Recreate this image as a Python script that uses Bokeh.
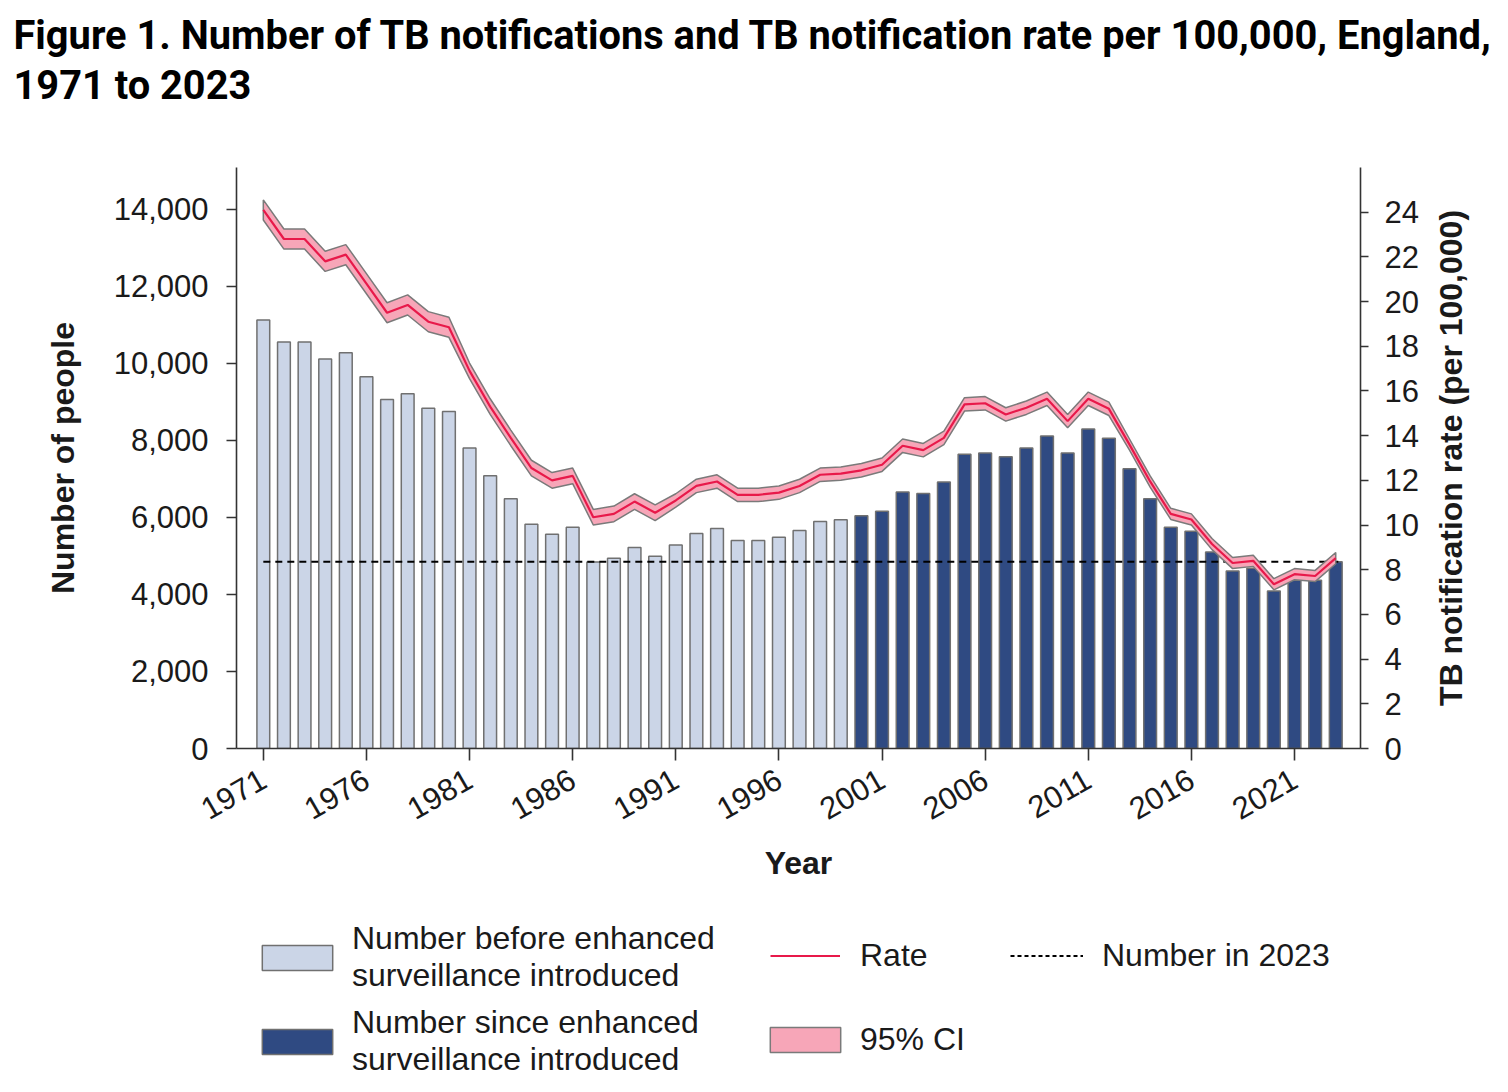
import math
from bokeh.plotting import figure
from bokeh.layouts import column, row
from bokeh.models import (Range1d, LinearAxis, FixedTicker, NumeralTickFormatter,
                          ColumnDataSource, Legend, LegendItem)
from bokeh.embed import file_html
from bokeh.resources import INLINE

# ---------------- data ----------------
years = list(range(1971, 2024))
counts = [11120, 10550, 10550, 10110, 10270, 9650, 9060, 9210, 8830, 8750,
          7800, 7080, 6480, 5820, 5560, 5740, 4840, 4940, 5220, 4990,
          5280, 5580, 5710, 5400, 5400, 5480, 5660, 5890, 5940, 6040,
          6160, 6660, 6620, 6920, 7640, 7670, 7570, 7800, 8110, 7670,
          8290, 8050, 7260, 6480, 5740, 5640, 5100, 4610, 4680, 4090,
          4370, 4370, 4850]
rate = [24.1, 22.8, 22.8, 21.8, 22.1, 20.8, 19.5, 19.85, 19.1, 18.85,
        16.9, 15.3, 13.9, 12.55, 12.0, 12.2, 10.35, 10.5, 11.05, 10.55,
        11.1, 11.75, 11.95, 11.35, 11.35, 11.45, 11.75, 12.25, 12.3, 12.45,
        12.7, 13.55, 13.35, 13.9, 15.4, 15.45, 14.95, 15.25, 15.65, 14.65,
        15.65, 15.2, 13.6, 11.95, 10.5, 10.25, 9.15, 8.3, 8.4, 7.35,
        7.8, 7.72, 8.52]
rate_lo = [23.65, 22.35, 22.35, 21.35, 21.65, 20.35, 19.05, 19.4, 18.65, 18.4,
           16.55, 14.95, 13.55, 12.2, 11.65, 11.85, 10.0, 10.15, 10.7, 10.2,
           10.8, 11.45, 11.65, 11.05, 11.05, 11.15, 11.45, 11.95, 12.0, 12.15,
           12.4, 13.25, 13.05, 13.6, 15.1, 15.15, 14.65, 14.95, 15.35, 14.35,
           15.35, 14.9, 13.35, 11.7, 10.25, 10.0, 8.9, 8.05, 8.15, 7.1,
           7.55, 7.47, 8.27]
rate_hi = [24.55, 23.25, 23.25, 22.25, 22.55, 21.25, 19.95, 20.3, 19.55, 19.3,
           17.25, 15.65, 14.25, 12.9, 12.35, 12.55, 10.7, 10.85, 11.4, 10.9,
           11.4, 12.05, 12.25, 11.65, 11.65, 11.75, 12.05, 12.55, 12.6, 12.75,
           13.0, 13.85, 13.65, 14.2, 15.7, 15.75, 15.25, 15.55, 15.95, 14.95,
           15.95, 15.5, 13.85, 12.2, 10.75, 10.5, 9.4, 8.55, 8.65, 7.6,
           8.05, 7.97, 8.77]
enhanced_start = 2000
year_ticks = years[::5]
count_ticks = list(range(0, 14001, 2000))
rate_ticks = list(range(0, 25, 2))

title_text = ("Figure 1. Number of TB notifications and TB notification rate per 100,000, England,\n"
              "1971 to 2023")
right_label = "TB notification rate (per 100,000)"
label_before = "Number before enhanced\nsurveillance introduced"
label_after = "Number since enhanced\nsurveillance introduced"

# ---------------- styles ----------------
AX_FONT = "Liberation Sans"
TXT = "#1a1a1a"
BEFORE_FILL = "#cbd5e7"
AFTER_FILL = "#2f4a82"
BAR_LINE = "#707070"
CI_FILL = "#f7a6b8"
CI_LINE = "#7a7a7a"
RATE_COLOR = "#e8194a"

# ---------------- sources ----------------
before = ColumnDataSource(dict(x=[y for y in years if y < enhanced_start],
                               top=[c for y, c in zip(years, counts) if y < enhanced_start]))
after = ColumnDataSource(dict(x=[y for y in years if y >= enhanced_start],
                              top=[c for y, c in zip(years, counts) if y >= enhanced_start]))
ci_x = years + years[::-1]
ci_y = rate_hi + rate_lo[::-1]
last_count = counts[-1]
ref_x = [years[0], years[-1] + 0.35]
ref_y = [last_count, last_count]

W = 1492
FRAME_LEFT = 236
TITLE_H = 110
H_TOP, H_BOTTOM, H = 57, 131, 774


def blank(fig):
    fig.outline_line_color = None
    fig.xgrid.visible = False
    fig.ygrid.visible = False
    fig.background_fill_color = "white"
    fig.border_fill_color = "white"


# ---------------- title strip ----------------
tp = figure(width=W, height=TITLE_H, output_backend="svg", toolbar_location=None,
            x_axis_type=None, y_axis_type=None, x_range=Range1d(0, 1), y_range=Range1d(0, 1),
            min_border_left=FRAME_LEFT, min_border_right=0, min_border_top=TITLE_H - 1,
            min_border_bottom=0)
blank(tp)
tp.title.text = title_text
tp.title.text_font = "Roboto"
tp.title.text_font_style = "bold"
tp.title.text_font_size = "39.8px"
tp.title.text_color = "black"
tp.title.align = "left"
tp.title.offset = -223
tp.title.text_line_height = 1.08
tp.title.standoff = 0

# ---------------- main chart ----------------
p = figure(width=1428, height=H, output_backend="svg", toolbar_location=None,
           x_range=Range1d(1969.7, 2024.2), y_range=Range1d(0, 15080),
           min_border_left=FRAME_LEFT, min_border_right=68, min_border_top=H_TOP,
           min_border_bottom=H_BOTTOM)
p.extra_y_ranges = {"rate": Range1d(0, 26)}
blank(p)


def draw_marks(fig, rate_range=None):
    kw = {} if rate_range is None else dict(y_range_name=rate_range)
    rb = fig.vbar(x="x", top="top", width=0.62, source=before,
                  fill_color=BEFORE_FILL, line_color=BAR_LINE, line_width=1.5)
    ra_ = fig.vbar(x="x", top="top", width=0.62, source=after,
                   fill_color=AFTER_FILL, line_color=BAR_LINE, line_width=1.5)
    rd = fig.line(x=ref_x, y=ref_y, line_color="black", line_width=2, line_dash="7 5")
    rc = fig.patch(x=ci_x, y=ci_y, fill_color=CI_FILL, line_color=CI_LINE,
                   line_width=1.5, **kw)
    rr = fig.line(x=years, y=rate, line_color=RATE_COLOR, line_width=2.2, **kw)
    return rb, ra_, rd, rc, rr


draw_marks(p, "rate")


def style_axis(ax):
    ax.axis_line_color = "#333333"
    ax.axis_line_width = 1.6
    ax.major_tick_line_color = "#333333"
    ax.major_tick_line_width = 1.6
    ax.major_tick_out = 10
    ax.major_tick_in = 0
    ax.minor_tick_out = 0
    ax.minor_tick_in = 0
    ax.major_label_text_font = AX_FONT
    ax.major_label_text_font_size = "31px"
    ax.major_label_text_color = TXT
    ax.axis_label_text_font = AX_FONT
    ax.axis_label_text_font_style = "bold"
    ax.axis_label_text_font_size = "32px"
    ax.axis_label_text_color = TXT


xa = p.xaxis[0]
xa.ticker = FixedTicker(ticks=year_ticks)
xa.major_label_orientation = math.pi / 6
xa.axis_label = "Year"
style_axis(xa)
xa.major_tick_out = 12
xa.major_label_standoff = 16
xa.axis_label_standoff = 12

ya = p.yaxis[0]
ya.ticker = FixedTicker(ticks=count_ticks)
ya.formatter = NumeralTickFormatter(format="0,0")
ya.axis_label = "Number of people"
style_axis(ya)
ya.axis_label_standoff = 30
ya.major_label_standoff = 18

ra = LinearAxis(y_range_name="rate", ticker=FixedTicker(ticks=rate_ticks))
style_axis(ra)
ra.major_tick_out = 8
ra.major_label_standoff = 16
p.add_layout(ra, "right")

# ---------------- right-hand axis title (reads bottom-to-top) ----------------
rp = figure(width=W - 1428, height=H, output_backend="svg", toolbar_location=None,
            x_axis_type=None, x_range=Range1d(0, 1), y_range=Range1d(0, 1),
            min_border_left=40, min_border_right=0, min_border_top=H_TOP,
            min_border_bottom=H_BOTTOM)
blank(rp)
rya = rp.yaxis[0]
rya.ticker = FixedTicker(ticks=[])
rya.axis_line_color = None
rya.major_tick_line_color = None
rya.minor_tick_line_color = None
rya.axis_label = right_label
rya.axis_label_standoff = 0
rya.axis_label_text_font = AX_FONT
rya.axis_label_text_font_style = "bold"
rya.axis_label_text_font_size = "32px"
rya.axis_label_text_color = TXT

# ---------------- legend strip (below the chart) ----------------
# the strip's ranges lie away from the data, so the proxy marks stay out of view
lp = figure(width=W, height=200, output_backend="svg", toolbar_location=None,
            x_axis_type=None, y_axis_type=None,
            x_range=Range1d(0, 1), y_range=Range1d(20000, 20001),
            min_border_left=FRAME_LEFT, min_border_right=0, min_border_top=0,
            min_border_bottom=0)
blank(lp)

g_before, g_after, g_dash, g_ci, g_rate = draw_marks(lp)
g_dash.glyph.line_dash = "4 3"


def add_legend(label, renderer, page_x, bottom_offset, glyph_width, standoff):
    lg = Legend(items=[LegendItem(label=label, renderers=[renderer])],
                location=(page_x - FRAME_LEFT, bottom_offset))
    lg.glyph_width = glyph_width
    lg.glyph_height = 31
    lg.label_text_font = AX_FONT
    lg.label_text_font_size = "32px"
    lg.label_text_color = TXT
    lg.label_text_line_height = 0.95
    lg.label_standoff = standoff
    lg.padding = 0
    lg.margin = 0
    lg.border_line_color = None
    lg.background_fill_alpha = 0
    lp.add_layout(lg, "center")


add_legend(label_before, g_before, 253, 90, 88, 11)
add_legend(label_after, g_after, 253, 6, 88, 11)
add_legend("Rate", g_rate, 770, 110, 70, 20)
add_legend("95% CI", g_ci, 761, 26, 88, 11)
add_legend("Number in 2023", g_dash, 1010, 110, 73, 19)

layout = column(tp, row(p, rp, spacing=0), lp, spacing=0)
open("out.html", "w").write(file_html(layout, INLINE))
